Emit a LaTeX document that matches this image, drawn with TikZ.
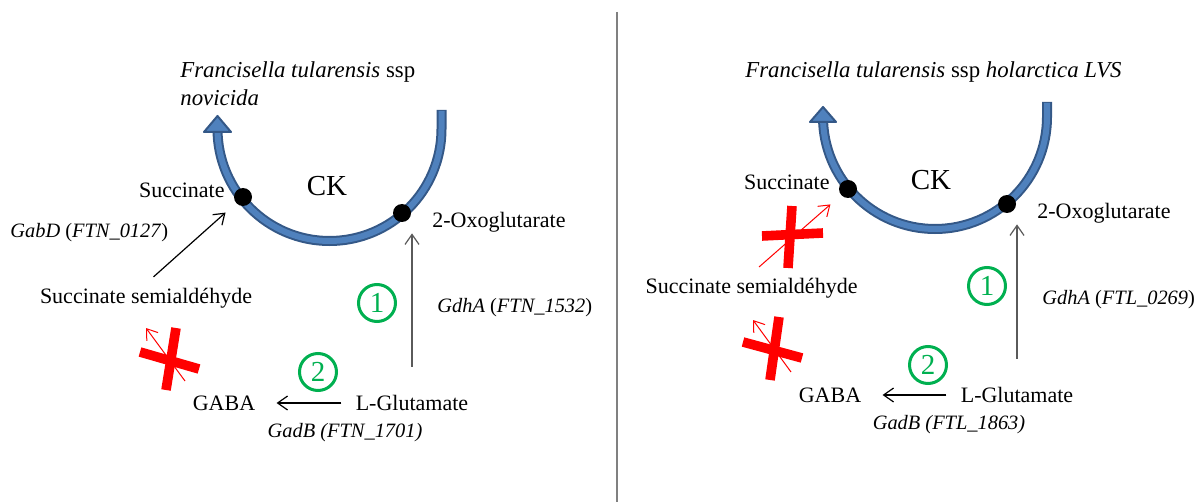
\documentclass[tikz,border=0pt]{standalone}
\usepackage{fontspec}
\setmainfont{Liberation Serif}
\usetikzlibrary{arrows.meta,calc,positioning}

\begin{document}
\begin{tikzpicture}[x=0.5pt, y=-0.5pt]
  % Definición de colores
  \definecolor{azulciclo}{RGB}{79, 129, 189} % Azul del ciclo
  \definecolor{azulborde}{RGB}{52, 88, 135}  % Borde del ciclo
  \definecolor{verdepaso}{RGB}{0, 176, 80}   % Verde de los pasos
  \definecolor{grisflecha}{RGB}{90, 90, 90}  % Gris de la flecha vertical
  \definecolor{rojobloqueo}{RGB}{255, 0, 0}  % Rojo de las cruces

  % --- Estilos ---
  \tikzset{
    metab/.style={font=\fontsize{11}{13}\selectfont, inner sep=2pt},
    gen/.style={font=\fontsize{10.2}{12}\selectfont, inner sep=0pt},
    titulo/.style={font=\fontsize{11.4}{14}\selectfont, align=left, inner sep=0pt, anchor=north west},
    punto/.style={circle, fill=black, minimum size=9pt, inner sep=0pt},
    paso/.style={circle, draw=verdepaso, line width=1.5pt, text=verdepaso, minimum size=18.5pt, inner sep=0pt, font=\fontsize{14.5}{14}\selectfont},
    flecha/.style={-{Straight Barb[length=5pt, width=7pt]}, line width=0.6pt},
    flecharoja/.style={-{Straight Barb[length=5pt, width=7pt]}, line width=0.5pt, rojobloqueo},
    cruz/.style={rojobloqueo, line width=4.8pt},
    cicloext/.style={azulborde, line width=5pt},
    cicloint/.style={azulciclo, line width=3pt},
    cabeza/.style={fill=azulciclo, draw=azulborde, line width=1pt, line join=round}
  }

  \useasboundingbox (0,0) rectangle (1204,502);

  % --- Separador entre los dos paneles ---
  \draw[gray, line width=1pt] (617,12) -- (617,502);

  % ================= Panel izquierdo: ssp novicida =================
  \node[titulo] (titulo1) at (180,61) {\textit{Francisella tularensis} ssp\\\textit{novicida}};

  % Ciclo (centro y radio)
  \coordinate (C1) at (329.5,129);
  \def\R{112}
  \draw[cicloext] (441.5,110) -- (441.5,129) arc[start angle=0, end angle=180, radius=\R] -- (217.5,127);
  \draw[cicloint] (441.5,111) -- (441.5,129) arc[start angle=0, end angle=180, radius=\R] -- (217.5,127);
  \filldraw[cabeza] (204,132) -- (217.5,116) -- (231,132) -- cycle;
  \node[font=\fontsize{14.5}{14}\selectfont] (ck1) at (327,186) {CK};

  \node[punto] (dsuc1) at (243,197) {};
  \node[punto] (doxo1) at (402,213) {};

  % Metabolitos
  \node[metab, anchor=east] (suc1) at (229,190) {Succinate};
  \node[metab, anchor=west] (oxo1) at (428,222) {2-Oxoglutarate};
  \node[metab] (ssa1) at (146,298) {Succinate semialdéhyde};
  \node[metab] (lglu1) at (412,403) {L-Glutamate};
  \node[metab] (gaba1) at (224,403) {GABA};

  % Genes
  \node[gen, anchor=west] (gabd1) at (10,233) {\textit{GabD} (\textit{FTN\_0127})};
  \node[gen, anchor=west] (gdha1) at (437,308) {\textit{GdhA} (\textit{FTN\_1532})};
  \node[gen] (gadb1) at (345,433) {\textit{GadB (FTN\_1701)}};

  % Pasos
  \node[paso] (paso11) at (377,303) {1};
  \node[paso] (paso12) at (318,372) {2};

  % Reacciones
  \draw[flecha, shorten <=5pt, shorten >=7pt] (ssa1.north) -- (dsuc1);
  \draw[flecha, grisflecha, shorten <=12pt, shorten >=5.5pt] (lglu1.north) -- (lglu1.north |- doxo1.south);
  \draw[flecha, shorten <=5pt, shorten >=8.5pt] (lglu1.west) -- (gaba1.east);

  % Bloqueo GABA -> semialdehído
  \coordinate (r1a) at (185,381);
  \coordinate (r1b) at (146,328);
  \draw[flecharoja] (r1a) -- (r1b);
  \draw[cruz] (176,328) -- (166,390);
  \draw[cruz] (140,352) -- (199,369);

  % ================= Panel derecho: ssp holarctica LVS =================
  \node[titulo] (titulo2) at (745,61) {\textit{Francisella tularensis} ssp \textit{holarctica LVS}};

  \coordinate (C2) at (935,117);
  \draw[cicloext] (1047,102) -- (1047,117) arc[start angle=0, end angle=180, radius=\R] -- (823,116);
  \draw[cicloint] (1047,103) -- (1047,117) arc[start angle=0, end angle=180, radius=\R] -- (823,116);
  \filldraw[cabeza] (810,122) -- (823,107) -- (836,122) -- cycle;
  \node[font=\fontsize{14.5}{14}\selectfont] (ck2) at (931,180) {CK};

  \node[punto] (dsuc2) at (848,189) {};
  \node[punto] (doxo2) at (1007,204) {};

  \node[metab, anchor=east] (suc2) at (834,182) {Succinate};
  \node[metab, anchor=west] (oxo2) at (1033,213) {2-Oxoglutarate};
  \node[metab] (ssa2) at (751.5,288) {Succinate semialdéhyde};
  \node[metab] (lglu2) at (1017,395) {L-Glutamate};
  \node[metab] (gaba2) at (830,395) {GABA};

  \node[gen, anchor=west] (gdha2) at (1042,300) {\textit{GdhA} (\textit{FTL\_0269})};
  \node[gen] (gadb2) at (949,425) {\textit{GadB (FTL\_1863)}};

  \node[paso] (paso21) at (987,286) {1};
  \node[paso] (paso22) at (928,365) {2};

  \draw[flecharoja, shorten <=5pt, shorten >=7pt] (ssa2.north) -- (dsuc2);
  \draw[flecha, grisflecha, shorten <=12pt, shorten >=5.5pt] (lglu2.north) -- (lglu2.north |- doxo2.south);
  \draw[flecha, shorten <=5pt, shorten >=8.5pt] (lglu2.west) -- (gaba2.east);

  % Cruces de bloqueo
  \draw[cruz] (792,206) -- (788,268);
  \draw[cruz] (762,236) -- (823,233);
  \coordinate (r2a) at (791,372);
  \coordinate (r2b) at (753,320);
  \draw[flecharoja] (r2a) -- (r2b);
  \draw[cruz] (779,317) -- (770,380);
  \draw[cruz] (743,342) -- (802,358);

\end{tikzpicture}
\end{document}
